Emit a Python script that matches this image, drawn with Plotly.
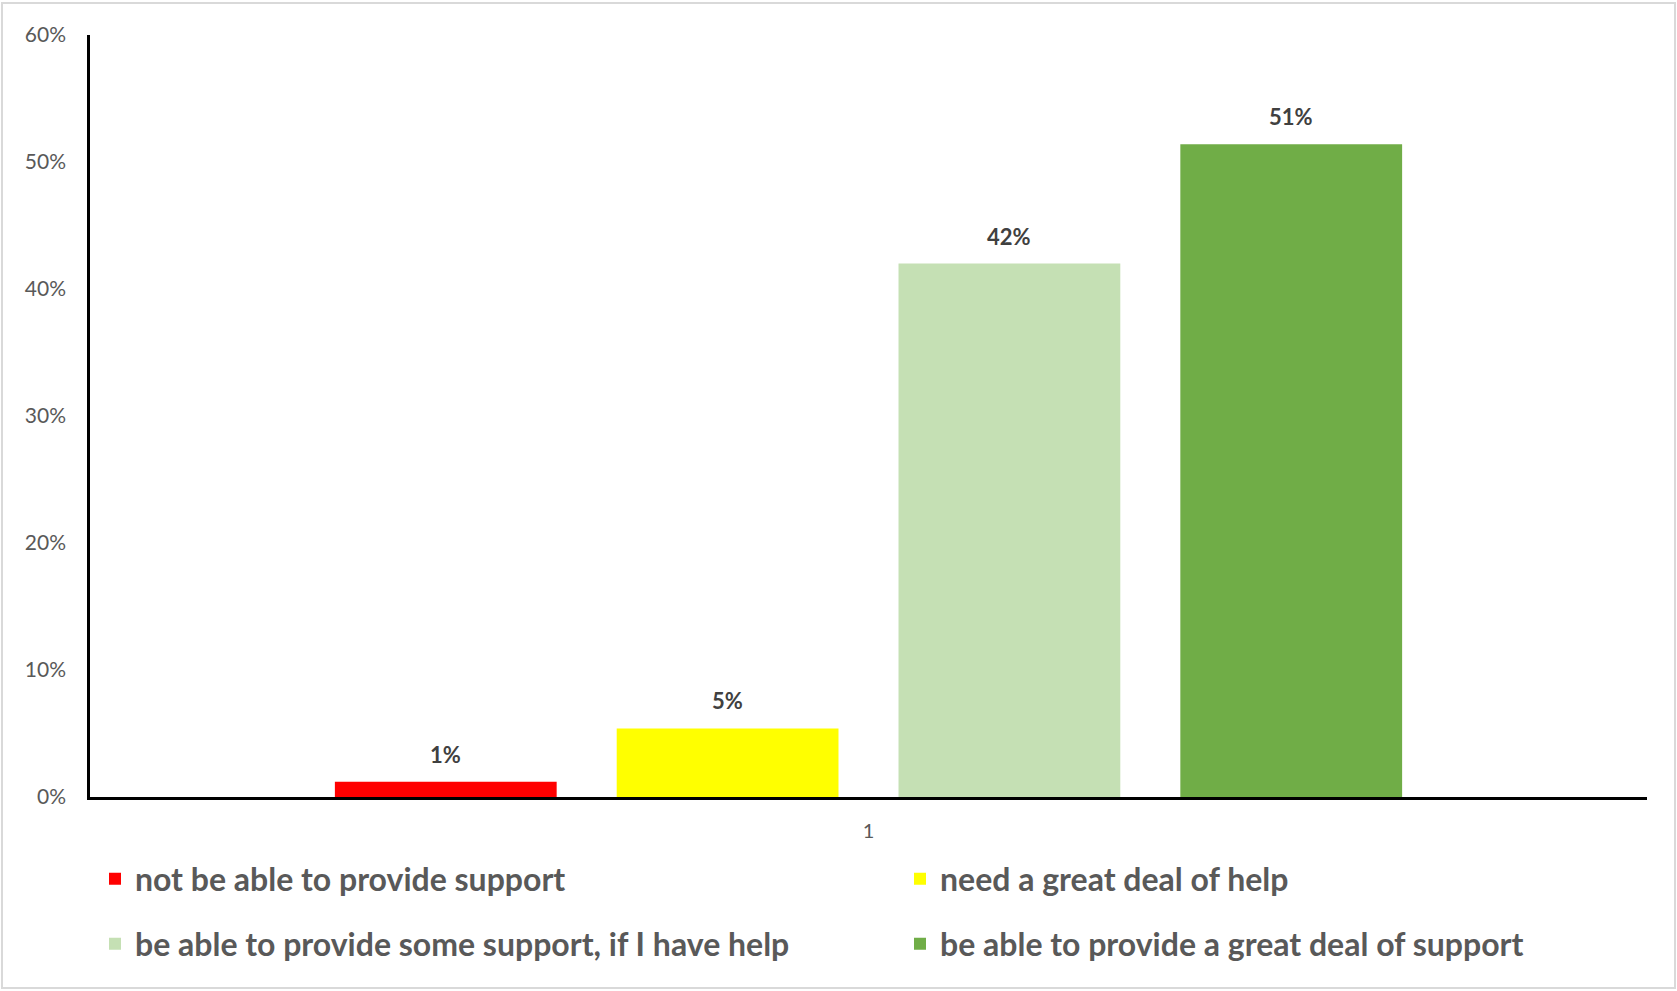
import plotly.graph_objects as go

category = ["1"]
series_names = [
    "not be able to provide support",
    "need a great deal of help",
    "be able to provide some support, if I have help",
    "be able to provide a great deal of support",
]
series_values = [0.012, 0.054, 0.420, 0.514]
series_labels = ["1%", "5%", "42%", "51%"]
series_colors = ["#FF0000", "#FFFF00", "#C5E0B4", "#70AD47"]
y_ticks = [0, 0.1, 0.2, 0.3, 0.4, 0.5, 0.6]
y_tick_labels = ["0%", "10%", "20%", "30%", "40%", "50%", "60%"]

W, H = 1677, 991
L, R, T, B = 90, 30, 35, 194
pw, ph = W - L - R, H - T - B

FONT = "Lato, Calibri, sans-serif"
BARGAP, BARGROUPGAP = 0.276, 0.213

def px_to_paper_x(px):
    return (px - L) / pw

def px_to_paper_y(py):
    return (H - B - py) / ph

# legend placement (column start px, row centre px)
legend_ids = ["legend", "legend2", "legend3", "legend4"]
legend_pos = [(95, 879), (900, 879), (95, 944), (900, 944)]

fig = go.Figure()
n = len(series_names)
for name, v, col, lg in zip(series_names, series_values, series_colors, legend_ids):
    fig.add_trace(go.Bar(
        x=category, y=[v], name=name, marker=dict(color=col, line=dict(width=0)),
        legend=lg,
    ))

# data labels above each bar of the group
slot = (1 - BARGAP) / n
annotations = []
for i, (v, lab) in enumerate(zip(series_values, series_labels)):
    annotations.append(dict(
        x=0 + (i - (n - 1) / 2) * slot, y=v, xref="x", yref="y",
        text=f"<b>{lab}</b>", showarrow=False, yanchor="bottom", yshift=12,
        font=dict(family=FONT, size=22, color="#404040"),
    ))

legend_common = dict(
    orientation="v", xanchor="left", yanchor="middle",
    font=dict(family=FONT, size=32, color="#595959", weight="bold"),
    bgcolor="rgba(0,0,0,0)", itemclick=False, borderwidth=0,
)
legends = {}
for lg, (px, py) in zip(legend_ids, legend_pos):
    legends[lg] = dict(x=px_to_paper_x(px), y=px_to_paper_y(py), **legend_common)

fig.update_layout(
    width=W, height=H,
    margin=dict(l=L, r=R, t=T, b=B, pad=0, autoexpand=False),
    paper_bgcolor="white", plot_bgcolor="white",
    barmode="group", bargap=BARGAP, bargroupgap=BARGROUPGAP,
    showlegend=True,
    xaxis=dict(
        showline=True, linecolor="black", linewidth=2.5,
        ticks="", showgrid=False, zeroline=False,
        tickfont=dict(family=FONT, size=20, color="#595959"),
        ticklabelstandoff=14,
    ),
    yaxis=dict(
        range=[0, 0.6], tickvals=y_ticks, ticktext=y_tick_labels,
        showline=True, linecolor="black", linewidth=2.5,
        ticks="", showgrid=False, zeroline=False,
        tickfont=dict(family=FONT, size=21, color="#595959"),
        ticklabelstandoff=17,
    ),
    annotations=annotations,
    shapes=[dict(
        type="rect", xref="paper", yref="paper",
        x0=px_to_paper_x(2), x1=px_to_paper_x(1675),
        y0=px_to_paper_y(988), y1=px_to_paper_y(3),
        line=dict(color="#D9D9D9", width=2), fillcolor="rgba(0,0,0,0)", layer="below",
    )],
    **legends,
)

fig.write_html("out.html")
